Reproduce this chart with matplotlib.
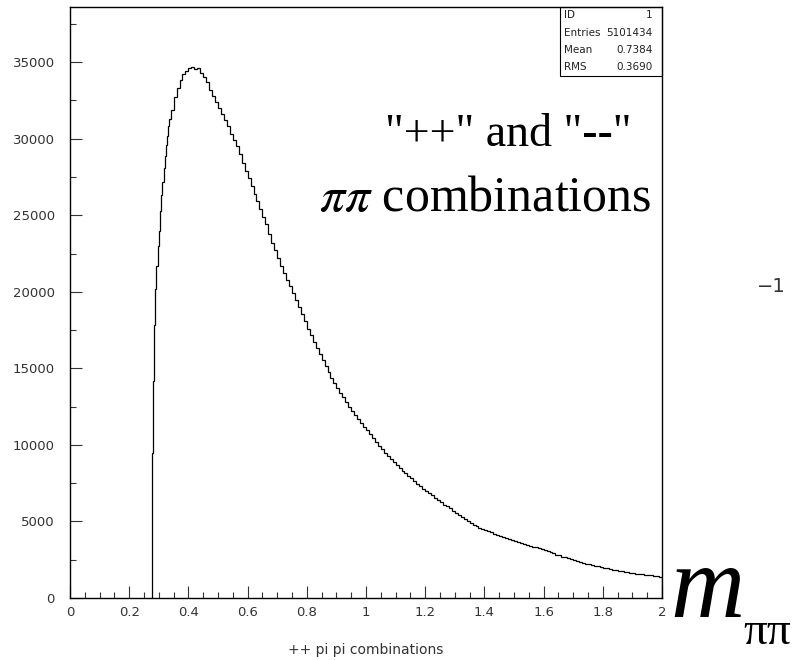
import numpy as np
import matplotlib
matplotlib.use("Agg")
from matplotlib import pyplot as plt
from matplotlib.ticker import MultipleLocator
from matplotlib.patches import Rectangle

# bin edges: fine bins on the threshold rise, then 0.01 wide
rise_edges = [0.276, 0.280, 0.284, 0.288, 0.292, 0.296, 0.300, 0.304,
              0.308, 0.312, 0.316, 0.320, 0.324, 0.328, 0.332, 0.336]
rise_counts = [9500, 14200, 17800, 20200, 21700, 23000, 24000, 25300,
               26300, 27200, 28100, 28900, 29600, 30200, 30800, 31300]

tail_counts = [
    # 0.34 - 0.69
    31900, 32700, 33300, 33800, 34200, 34450, 34600, 34650, 34550, 34600,
    34300, 34000, 33700, 33200, 32800, 32400, 32000, 31600, 31200, 30800,
    30300, 29900, 29500, 29000, 28400, 27900, 27400, 26900, 26400, 25900,
    25400, 24900, 24400, 23800, 23200,
    # 0.69 - 1.04
    22700, 22200, 21700, 21250, 20800, 20350, 19900, 19450, 19000, 18550,
    18100, 17600, 17150, 16750, 16350, 15950, 15550, 15150, 14750, 14400,
    14050, 13700, 13400, 13100, 12800, 12500, 12200, 11950, 11700, 11450,
    11200, 10950, 10700, 10450, 10200,
    # 1.04 - 1.39
    9950, 9700, 9500, 9300, 9100, 8900, 8700, 8500, 8300, 8150,
    8000, 7850, 7650, 7450, 7300, 7150, 7000, 6850, 6700, 6550,
    6400, 6250, 6100, 5980, 5850, 5700, 5570, 5430, 5300, 5160,
    5030, 4880, 4780, 4690, 4600,
    # 1.39 - 1.74
    4520, 4440, 4360, 4280, 4200, 4120, 4050, 3980, 3910, 3850,
    3790, 3730, 3670, 3600, 3540, 3480, 3420, 3360, 3300, 3240,
    3180, 3120, 3050, 2980, 2910, 2840, 2780, 2710, 2650, 2580,
    2520, 2460, 2400, 2350, 2300,
    # 1.74 - 2.00
    2250, 2200, 2150, 2100, 2060, 2020, 1980, 1940, 1900, 1860,
    1820, 1780, 1740, 1710, 1680, 1650, 1620, 1600, 1570, 1540,
    1520, 1490, 1470, 1440, 1420, 1390,
]
tail_edges = np.round(np.arange(0.34, 2.0001, 0.01), 3)

edges = np.concatenate([rise_edges, tail_edges])
counts = np.array(rise_counts + tail_counts)

stats_names = ["ID", "Entries", "Mean", "RMS"]
stats_values = ["1", "5101434", "0.7384", "0.3690"]

fig = plt.figure(figsize=(7.92, 6.60), dpi=100)
ax = fig.add_axes([70 / 792, 62 / 660, 592 / 792, 591 / 660])

ax.stairs(counts, edges, color="black", linewidth=0.9)

ax.set_xlim(0, 2)
ax.set_ylim(0, 38600)
ax.xaxis.set_major_locator(MultipleLocator(0.2))
ax.xaxis.set_minor_locator(MultipleLocator(0.05))
ax.yaxis.set_major_locator(MultipleLocator(5000))
ax.yaxis.set_minor_locator(MultipleLocator(2500))
ax.xaxis.set_major_formatter(lambda v, p: "%g" % round(v, 2))
ax.tick_params(which="both", direction="in", colors="#333333", labelsize=9.5,
               width=0.8)
ax.tick_params(which="major", length=8.5)
ax.tick_params(which="minor", length=4.5)
ax.tick_params(axis="y", pad=11)
ax.tick_params(axis="x", pad=6)
for s in ax.spines.values():
    s.set_linewidth(1.0)

ax.set_xlabel("++ pi pi combinations", fontsize=10, color="#333333")
ax.xaxis.set_label_coords(0.5, -0.088)
ax.xaxis.label.set_va("center")

# stats box
ax.add_patch(Rectangle((0.828, 0.883), 0.172, 0.117, transform=ax.transAxes,
                       fill=False, edgecolor="black", linewidth=0.8,
                       clip_on=False))
rows_y = [0.9865, 0.956, 0.927, 0.898]
for name, val, yy in zip(stats_names, stats_values, rows_y):
    ax.text(0.835, yy, name, transform=ax.transAxes, fontsize=7.5,
            va="center", ha="left", color="#222222")
    ax.text(0.984, yy, val, transform=ax.transAxes, fontsize=7.5,
            va="center", ha="right", color="#222222")

plt.rcParams["mathtext.fontset"] = "stix"
ax.text(0.949, 0.783, '"++" and "--"', transform=ax.transAxes,
        fontsize=33, family="Liberation Serif", ha="right", va="center")
ax.text(0.983, 0.676, r"$\pi\pi$ combinations", transform=ax.transAxes,
        fontsize=36, family="Liberation Serif", ha="right", va="center")

fig.text(771 / 792, 1 - 287 / 660, "\u22121", fontsize=14, color="#333333",
         ha="center", va="center")

fig.text(670 / 792, 1 - 617 / 660, "m", fontsize=74,
         family="Liberation Serif", style="italic", va="baseline", ha="left")
fig.text(743 / 792, 1 - 644 / 660, "\u03c0\u03c0", fontsize=34,
         family="Liberation Serif", va="baseline", ha="left")

fig.savefig("out.png", dpi=100, facecolor="white")
